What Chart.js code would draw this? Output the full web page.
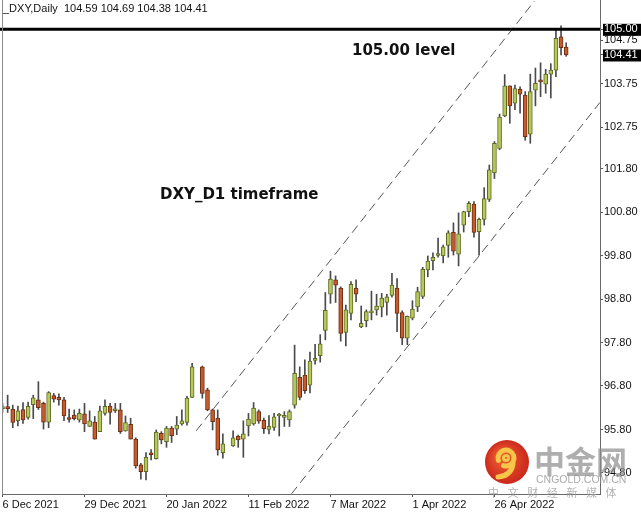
<!DOCTYPE html>
<html>
<head>
<meta charset="utf-8">
<script src="https://cdn.jsdelivr.net/npm/chart.js@4.4.1/dist/chart.umd.min.js"></script>
<style>
  html, body { margin: 0; padding: 0; background: #fff; }
  #wrap { width: 641px; height: 512px; }
</style>
</head>
<body>
<div id="wrap"><canvas id="dxy" width="641" height="512"></canvas></div>
<script>
// daily bars, index 0 = 6 Dec 2021 (null = no bar drawn in that slot)
const opens = [
  96.28, 96.30, 96.27, 96.00, 96.26, 96.08, 96.37, 96.48, 96.40, 95.97,
  96.58, 96.54, 96.48, 96.05, 96.13, 96.02, 96.16, 95.87, 95.97, 95.75,
  96.17, 96.34, 96.23, 96.25, 95.77, 95.92, 95.58, 94.99, 94.83, 95.23,
  95.13, 95.71, 95.52, 95.83, 95.81, 95.93, 95.96, 96.54, null, 97.24,
  96.71, 96.25, 96.06, 95.27, null, 95.42, 95.65, 95.58, 95.88, 95.93,
  96.21, 96.01, 95.80, 95.85, 96.11, 96.08, 96.02, 96.36, 97.00, 97.05,
  96.82, 97.39, 97.50, 98.08, 98.91, 99.24, 99.05, 98.03, 98.47, 99.05,
  98.16, 98.30, 98.48, 98.55, 98.61, 98.72, 98.88, 99.05, 98.49, 97.90,
  98.36, 98.62, 98.86, 99.47, 99.68, 99.80, 99.79, 100.03, 100.33, 99.83,
  100.50, 100.81, 100.98, 100.35, 100.63, 101.09, 101.70, 102.26, 103.01, 103.70,
  103.30, 103.62, 103.49, 102.59, 103.60, 103.83, 103.74, 103.97, 104.06, 104.83,
  104.59
];
const highs = [
  96.40, 96.59, 96.36, 96.34, 96.42, 96.43, 96.59, 96.90, 96.43, 96.67,
  96.63, 96.62, 96.54, 96.27, 96.25, 96.27, 96.40, 96.23, 96.10, 96.34,
  96.48, 96.40, 96.40, 96.40, 96.11, 96.06, 95.61, 95.02, 95.27, 95.34,
  95.79, 95.75, 95.87, 95.87, 96.10, 96.25, 96.56, 97.32, null, 97.26,
  96.75, 96.27, 96.25, 95.70, null, 95.77, 95.67, 96.00, 96.17, 96.42,
  96.25, 96.06, 96.12, 96.17, 96.17, 96.21, 96.25, 97.74, 97.24, 97.40,
  97.58, 97.76, 97.98, 98.95, 99.44, 99.33, 99.08, 98.66, 99.20, 99.24,
  98.64, 98.55, 98.98, 98.91, 98.93, 98.91, 99.39, 99.27, 98.53, 98.41,
  98.76, 99.07, 99.53, 99.79, 99.86, 100.20, 100.04, 100.37, 100.55, 100.78,
  100.82, 101.04, 101.04, 100.66, 101.36, 101.88, 102.42, 103.05, 103.96, 103.70,
  103.72, 103.68, 103.57, 103.97, 104.11, 104.23, 104.08, 104.21, 104.98, 105.08,
  104.69
];
const lows = [
  96.20, 96.19, 95.84, 95.88, 95.94, 96.04, 96.05, 96.26, 95.81, 95.84,
  96.43, 96.36, 96.00, 95.97, 96.02, 95.97, 95.75, 95.87, 95.58, 95.75,
  96.13, 95.92, 96.19, 95.71, 95.76, 95.58, 94.91, 94.66, 94.64, 95.10,
  95.12, 95.47, 95.39, 95.50, 95.68, 95.90, 95.90, 96.53, null, 96.52,
  96.23, 95.79, 95.21, 95.14, null, 95.41, 95.39, 95.16, 95.65, 95.90,
  95.94, 95.71, 95.70, 95.78, 95.65, 95.87, 95.87, 96.29, 96.48, 96.63,
  96.64, 97.30, 97.35, 97.86, 98.70, 98.72, 97.83, 97.72, 98.32, 98.74,
  98.14, 98.16, 98.32, 98.43, 98.39, 98.43, 98.84, 98.05, 97.75, 97.75,
  98.32, 98.51, 98.81, 99.31, 99.47, 99.76, 99.63, 99.76, 99.81, 99.56,
  100.34, 100.69, 100.22, 99.81, 100.50, 101.04, 101.57, 102.23, 102.99, 102.84,
  103.15, 103.07, 102.45, 102.38, 103.24, 103.45, 103.53, 103.42, 103.91, 104.41,
  104.38
];
const closes = [
  96.32, 96.28, 95.96, 96.23, 96.02, 96.33, 96.53, 96.30, 95.97, 96.65,
  96.50, 96.48, 96.11, 96.03, 96.05, 96.17, 95.93, 96.00, 95.58, 96.23,
  96.33, 96.19, 96.27, 95.75, 95.96, 95.58, 94.96, 94.83, 95.16, 95.22,
  95.74, 95.56, 95.83, 95.66, 95.90, 96.00, 96.52, 97.24, null, 96.63,
  96.25, 95.98, 95.33, 95.47, null, 95.61, 95.56, 95.70, 96.04, 96.29,
  95.99, 95.82, 95.87, 96.09, 96.12, 96.09, 96.21, 97.09, 96.54, 96.69,
  97.37, 97.40, 97.77, 98.54, 99.26, 99.12, 98.01, 98.55, 99.14, 98.91,
  98.24, 98.51, 98.49, 98.64, 98.82, 98.85, 99.12, 98.47, 97.90, 98.40,
  98.57, 98.97, 99.48, 99.67, 99.76, 99.81, 100.00, 100.32, 99.90, 100.30,
  100.81, 101.00, 100.33, 100.63, 101.11, 101.77, 102.38, 102.98, 103.70, 103.24,
  103.64, 103.51, 102.53, 103.57, 103.76, 103.79, 103.97, 104.06, 104.79, 104.58,
  104.41
];

const dateTickIdx = [0, 16, 32, 48, 64, 80, 96];
const dateLabels = ['6 Dec 2021', '29 Dec 2021', '20 Jan 2022', '11 Feb 2022', '7 Mar 2022', '1 Apr 2022', '26 Apr 2022'];
const priceTicks = [105.00, 104.75, 104.41, 103.75, 102.75, 101.80, 100.80, 99.80, 98.80, 97.80, 96.80, 95.80, 94.80];
const boxedTicks = [105.00, 104.41];

// trend channel (bar index, price) and the 105 level
const upperChannel = [[37.8, 95.77], [103.8, 105.65]];
const lowerChannel = [[56.4, 94.32], [116.6, 103.32]];
const levelValue = 105.00;

const xRange = [-0.1, 116.6];
const yRange = [94.317, 105.674];

const bull = '#b7c95b', bullEdge = '#5d6a21';
const bear = '#c75b2c', bearEdge = '#6b2e13';

const bodies = [], wicks = [], fills = [], edges = [];
opens.forEach((o, i) => {
  if (o === null) return;
  const c = closes[i];
  wicks.push({ x: i, y: [lows[i], highs[i]] });
  bodies.push({ x: i, y: [o, c] });
  fills.push(c >= o ? bull : bear);
  edges.push(c >= o ? bullEdge : bearEdge);
});

const last = opens.length - 1;
const header = '_DXY,Daily  ' + [opens[last], highs[last], lows[last], closes[last]].map(v => v.toFixed(2)).join(' ');

const smallFont = "'Liberation Sans Narrow', 'Liberation Sans', Arial, sans-serif";

const overlay = {
  id: 'overlay',
  afterDraw(chart) {
    const { ctx, chartArea: a } = chart;
    ctx.save();
    // left frame
    ctx.strokeStyle = '#8c8c8c';
    ctx.lineWidth = 1;
    ctx.beginPath();
    ctx.moveTo(a.left + 0.5, a.top);
    ctx.lineTo(a.left + 0.5, a.bottom);
    ctx.stroke();

    ctx.fillStyle = '#111';
    ctx.textBaseline = 'middle';
    ctx.font = '11px ' + smallFont;
    ctx.fillText(header, 3, 9);

    ctx.font = "bold 15px 'DejaVu Sans', sans-serif";
    ctx.fillText('105.00 level', 352, 51);
    ctx.fillText('DXY_D1 timeframe', 160, 195);

    // cngold watermark
    const cx = 507, cy = 462;
    const g = ctx.createRadialGradient(cx - 6, cy - 6, 4, cx, cy, 23);
    g.addColorStop(0, '#ee5a30');
    g.addColorStop(1, '#c8261a');
    ctx.fillStyle = g;
    ctx.beginPath();
    ctx.arc(cx, cy, 22, 0, Math.PI * 2);
    ctx.fill();
    ctx.strokeStyle = '#f7c548';
    ctx.lineCap = 'round';
    ctx.lineWidth = 5;
    ctx.beginPath();
    ctx.arc(cx - 1, cy - 4, 8, Math.PI * 0.9, Math.PI * 2.6);
    ctx.stroke();
    ctx.beginPath();
    ctx.moveTo(cx + 6, cy + 2);
    ctx.quadraticCurveTo(cx + 4, cy + 14, cx - 9, cy + 15);
    ctx.stroke();
    ctx.lineWidth = 3;
    ctx.beginPath();
    ctx.arc(cx - 1, cy - 4, 2.5, 0, Math.PI * 2);
    ctx.stroke();

    ctx.fillStyle = 'rgba(140,140,140,0.7)';
    ctx.font = "bold 31px 'Noto Sans CJK SC', sans-serif";
    ctx.fillText('中金网', 534, 461);
    ctx.fillStyle = 'rgba(150,150,150,0.8)';
    ctx.font = "10.5px 'Liberation Sans', sans-serif";
    ctx.fillText('CNGOLD.COM.CN', 536, 480);
    ctx.fillStyle = 'rgba(160,160,160,0.8)';
    ctx.font = "11px 'Noto Sans CJK SC', sans-serif";
    '中文财经新媒体'.split('').forEach((ch, k) => ctx.fillText(ch, 488 + k * 19.6, 493));
    ctx.restore();
  }
};

new Chart(document.getElementById('dxy'), {
  type: 'bar',
  data: {
    datasets: [
      {
        type: 'line',
        data: [{ x: xRange[0] - 0.5, y: levelValue }, { x: xRange[1], y: levelValue }],
        borderColor: '#000',
        borderWidth: 3,
        pointRadius: 0,
        clip: false,
        order: 0
      },
      {
        type: 'line',
        data: upperChannel.map(p => ({ x: p[0], y: p[1] })),
        borderColor: '#555',
        borderWidth: 1,
        borderDash: [9, 5],
        pointRadius: 0,
        order: 0
      },
      {
        type: 'line',
        data: lowerChannel.map(p => ({ x: p[0], y: p[1] })),
        borderColor: '#555',
        borderWidth: 1,
        borderDash: [9, 5],
        pointRadius: 0,
        order: 0
      },
      {
        data: bodies,
        backgroundColor: fills,
        borderColor: edges,
        borderWidth: 1,
        borderSkipped: false,
        barThickness: 4,
        minBarLength: 2,
        grouped: false,
        order: 1
      },
      {
        data: wicks,
        backgroundColor: '#4a4a4a',
        borderWidth: 0,
        barThickness: 1,
        grouped: false,
        order: 2
      }
    ]
  },
  options: {
    responsive: false,
    animation: false,
    layout: { padding: { left: 2, top: 0, right: 0, bottom: 0 } },
    plugins: { legend: { display: false }, tooltip: { enabled: false } },
    scales: {
      x: {
        type: 'linear',
        min: xRange[0],
        max: xRange[1],
        offset: false,
        afterBuildTicks: s => { s.ticks = dateTickIdx.map(v => ({ value: v })); },
        afterFit: s => { s.height = 18; s.paddingLeft = 0; s.paddingRight = 0; },
        ticks: {
          autoSkip: false,
          maxRotation: 0,
          align: 'start',
          padding: 1,
          color: '#111',
          font: { family: smallFont, size: 11 },
          callback: (v, i) => dateLabels[i]
        },
        grid: { display: true, drawOnChartArea: false, drawTicks: true, tickLength: 3, color: '#555', offset: false },
        border: { display: true, color: '#6a6a6a' }
      },
      y: {
        position: 'right',
        min: yRange[0],
        max: yRange[1],
        afterBuildTicks: s => { s.ticks = priceTicks.map(v => ({ value: v })); },
        afterFit: s => { s.width = 41; s.paddingTop = 0; s.paddingBottom = 0; },
        ticks: {
          autoSkip: false,
          padding: 1,
          font: { family: smallFont, size: 11, lineHeight: 1 },
          color: c => boxedTicks.includes(c.tick.value) ? '#fff' : '#111',
          showLabelBackdrop: c => !!c.tick && boxedTicks.includes(c.tick.value),
          backdropColor: '#000',
          backdropPadding: { top: 0, bottom: 1, left: 1, right: 4 },
          callback: v => Number(v).toFixed(2)
        },
        grid: { display: true, drawOnChartArea: false, drawTicks: true, tickLength: 3, color: '#555' },
        border: { display: true, color: '#6a6a6a' }
      }
    }
  },
  plugins: [overlay]
});
</script>
</body>
</html>
